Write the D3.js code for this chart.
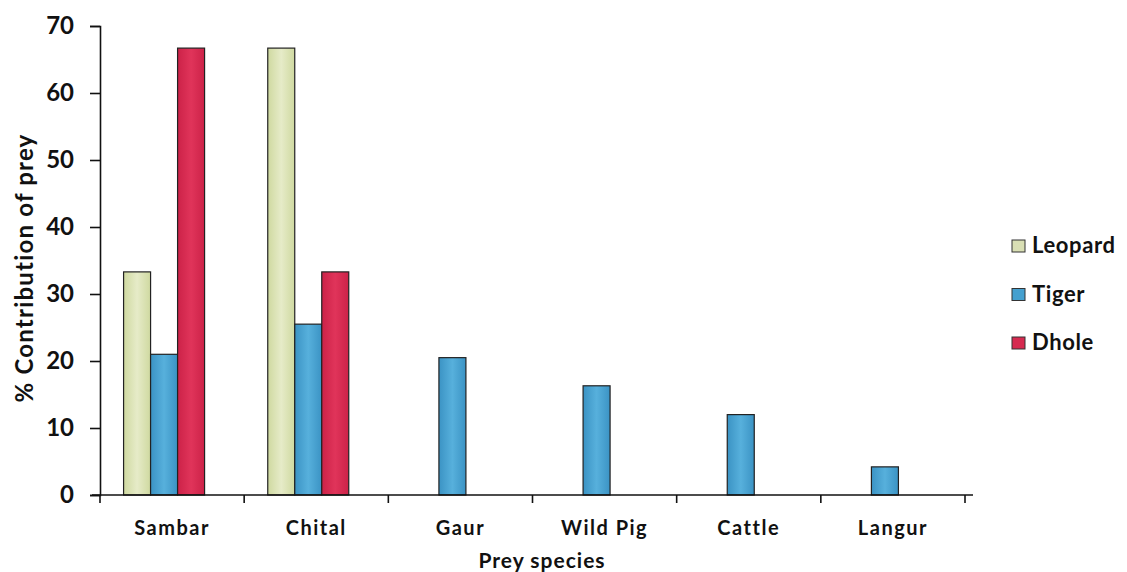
<!DOCTYPE html>
<html><head><meta charset="utf-8">
<script src="https://cdn.jsdelivr.net/npm/d3@7"></script>
<style>body{margin:0;background:#fff;}svg{display:block;font-family:Lato,"Open Sans",sans-serif;}</style>
</head><body>
<svg id="c" width="1127" height="572"></svg>
<script>
const categories = ["Sambar","Chital","Gaur","Wild Pig","Cattle","Langur"];
const seriesNames = ["Leopard","Tiger","Dhole"];
const leopard = [33.3, 66.7, 0, 0, 0, 0];
const tiger = [21, 25.5, 20.5, 16.3, 12, 4.2];
const dhole = [66.7, 33.3, 0, 0, 0, 0];
const yTicks = [0,10,20,30,40,50,60,70];
const colors = {Leopard:"#d9dfb4", Tiger:"#45a0cf", Dhole:"#d62a50"};

const svg = d3.select("#c");
const x0 = 100, x1 = 965, yTop = 26, yBot = 495;
const x = d3.scaleBand().domain(categories).range([x0, x1]).paddingInner(0).paddingOuter(0);
const y = d3.scaleLinear().domain([0,70]).range([yBot, yTop]);
const barW = 27;

const defs = svg.append("defs");
function grad(id, c1, c2){
  const g = defs.append("linearGradient").attr("id", id).attr("x1",0).attr("x2",1).attr("y1",0).attr("y2",0);
  g.append("stop").attr("offset","0%").attr("stop-color",c1);
  g.append("stop").attr("offset","50%").attr("stop-color",c2);
  g.append("stop").attr("offset","100%").attr("stop-color",c1);
}
grad("gL","#cfd9a0","#e6ebc8");
grad("gT","#3b93c4","#57b0dc");
grad("gD","#cc2248","#e0345a");
const fills = {Leopard:"url(#gL)", Tiger:"url(#gT)", Dhole:"url(#gD)"};

const data = [leopard, tiger, dhole];
categories.forEach((cat, i) => {
  const present = seriesNames.map((s, k) => ({s, v: data[k][i]})).filter(d => d.v > 0);
  const cx = x(cat) + x.bandwidth()/2 - 8;
  const start = cx - present.length*barW/2;
  present.forEach((d, j) => {
    svg.append("rect")
      .attr("x", start + j*barW).attr("y", y(d.v))
      .attr("width", barW).attr("height", y(0) - y(d.v))
      .attr("fill", fills[d.s]).attr("stroke", "#222").attr("stroke-width", 1.2);
  });
});

// Y axis
const yAxis = d3.axisLeft(y).tickValues(yTicks).tickSize(10).tickPadding(16);
const gy = svg.append("g").attr("transform", `translate(${x0},0)`).call(yAxis);
gy.select(".domain").attr("stroke","#111").attr("stroke-width",1.6);
gy.selectAll(".tick line").attr("stroke","#111").attr("stroke-width",1.6);
gy.selectAll(".tick text").attr("font-size",24).attr("font-weight",700).attr("fill","#111").attr("font-family","Lato, sans-serif");

// X axis
const xAxis = d3.axisBottom(x).tickSize(0).tickPadding(26);
const gx = svg.append("g").attr("transform", `translate(0,${yBot})`).call(xAxis);
gx.select(".domain").attr("stroke","#111").attr("stroke-width",1.6).attr("d", `M${x0-8},0H${x1+8}`);
gx.selectAll(".tick text").attr("font-size",20).attr("font-weight",700).attr("fill","#111")
  .attr("letter-spacing","1.5px").attr("font-family","Lato, sans-serif");
// category boundary ticks
const bounds = categories.map(c => x(c)).concat([x1]);
gx.selectAll(".bt").data(bounds).enter().append("line")
  .attr("x1", d => d).attr("x2", d => d).attr("y1", 0).attr("y2", 8)
  .attr("stroke","#111").attr("stroke-width",1.6);

// Axis titles
svg.append("text").attr("transform","translate(33,268) rotate(-90)")
  .attr("text-anchor","middle").attr("font-size",24).attr("font-weight",700).attr("fill","#111")
  .attr("letter-spacing","1.2px")
  .text("% Contribution of prey");
svg.append("text").attr("x",542).attr("y",568).attr("text-anchor","middle")
  .attr("font-size",21).attr("font-weight",700).attr("fill","#111").attr("letter-spacing","1px").text("Prey species");

// Legend
const legend = svg.append("g").attr("transform","translate(1012,253)");
seriesNames.forEach((s, i) => {
  const g = legend.append("g").attr("transform", `translate(0,${i*48.5})`);
  g.append("rect").attr("x",0).attr("y",-13).attr("width",13).attr("height",12)
    .attr("fill", colors[s]).attr("stroke","#333").attr("stroke-width",1);
  g.append("text").attr("x",20).attr("y",0).attr("font-size",22).attr("font-weight",700)
    .attr("letter-spacing","0.6px").attr("fill","#111").text(s);
});
</script>
</body></html>
